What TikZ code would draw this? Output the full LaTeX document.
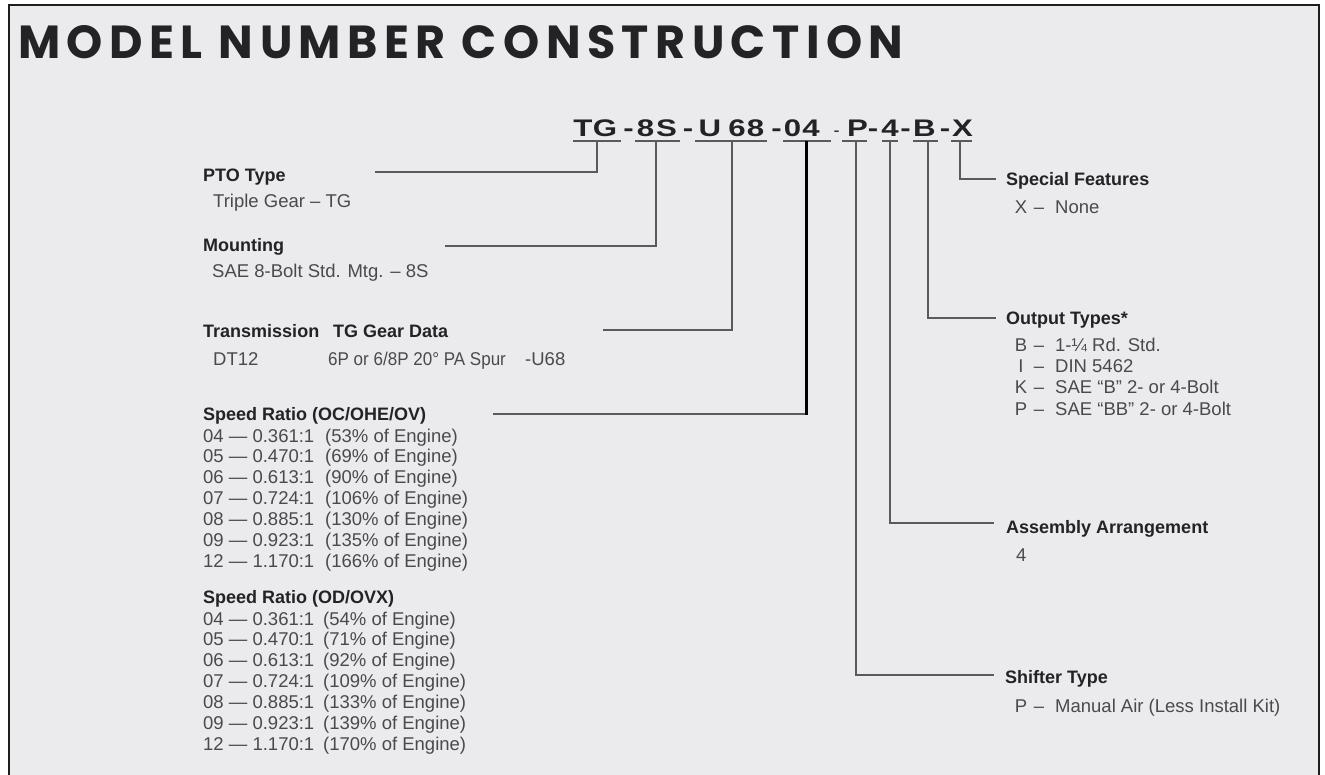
\documentclass[tikz,border=0pt]{standalone}
\usepackage{fontspec}
\usepackage{graphicx}
\setmainfont{Liberation Sans}
\newfontfamily\titlefont{Poppins}[LetterSpace=14]
\newfontfamily\mnfont{Liberation Sans}[FakeStretch=1.3]
\definecolor{bg}{HTML}{EBEBEE}
\definecolor{frame}{HTML}{1E1E1E}
\definecolor{body}{HTML}{4A4A4C}
\definecolor{head}{HTML}{232325}
\definecolor{conn}{HTML}{5A5A5C}
\tikzset{
  txt/.style={anchor=base west, inner sep=0pt, font=\fontsize{18.5}{20}\selectfont, text=body},
  txtc/.style={txt, anchor=base},
  hd/.style={txt, font=\fontsize{18}{20}\selectfont\bfseries, text=head},
  mn/.style={anchor=base, inner sep=0pt, font=\mnfont\fontsize{24}{26}\selectfont\bfseries, text=head},
  ul/.style={draw=conn, line width=1.6pt},
  conline/.style={draw=conn, line width=1.4pt},
  thick04/.style={draw=black, line width=3pt}
}
\begin{document}
\begin{tikzpicture}[x=1pt,y=-1pt]
\useasboundingbox (0,0) rectangle (1325,775);
\fill[white] (0,0) rectangle (1325,775);
\fill[bg] (9,5) rectangle (1319,775);
\draw[frame, line width=2pt] (9,775) -- (9,5) -- (1319,5) -- (1319,775);

% title
\node[anchor=north west, inner sep=0pt, text=head] (title) at (18,25)
  {\resizebox{885pt}{33pt}{\titlefont\bfseries MODEL NUMBER CONSTRUCTION}};

% model number characters
\foreach \ch/\x [count=\i] in {T/583, G/605, -/628.5, 8/645.5, S/666.5, -/688,
    U/710, 6/737, 8/755.5, -/776.5, 0/792.5, 4/811, P/857.5, -/873, 4/890,
    -/905.5, B/924.5, -/945, X/962.5}
  \node[mn] (mc\i) at (\x,137) {\ch};
\node[anchor=base, inner sep=0pt, font=\fontsize{18}{20}\selectfont, text=head] (mcdash) at (836.5,137) {-};

% underlines
\draw[ul] (573,141) -- (621,141);
\draw[ul] (635,141) -- (680,141);
\draw[ul] (695,141) -- (767,141);
\draw[ul] (783,141) -- (831,141);
\draw[ul] (842,141) -- (867,141);
\draw[ul] (882,141) -- (898,141);
\draw[ul] (913,141) -- (938,141);
\draw[ul] (951,141) -- (972,141);

% connector anchors at the code segments
\coordinate (sTG) at (597,141);
\coordinate (s8S) at (656,141);
\coordinate (sU68) at (732,141);
\coordinate (s04) at (806,141);
\coordinate (sP) at (856,141);
\coordinate (s4) at (890,141);
\coordinate (sB) at (928,141);
\coordinate (sX) at (960,141);

% connector free ends
\coordinate (ePTO) at (375,172);
\coordinate (eMNT) at (445,246);
\coordinate (eTRN) at (603,330);
\coordinate (eSPD) at (493,414);
\coordinate (c04) at (806,414);
\coordinate (eSF) at (996,179);
\coordinate (eOT) at (996,318);
\coordinate (eAA) at (994,523);
\coordinate (eST) at (994,675);

\draw[conline] (sTG) |- (ePTO);
\draw[conline] (s8S) |- (eMNT);
\draw[conline] (sU68) |- (eTRN);
\draw[conline] (c04) -- (eSPD);
\draw[thick04] (s04) -- ([yshift=-0.7pt]c04);
\draw[conline] (sX) |- (eSF);
\draw[conline] (sB) |- (eOT);
\draw[conline] (s4) |- (eAA);
\draw[conline] (sP) |- (eST);

% left column
\node[hd] (pto) at (203,182) {PTO Type};
\node[txt] (ptov) at (213,208) {Triple Gear – TG};
\node[hd] (mnt) at (203,252) {Mounting};
\node[txt] (mntv) at (212,278) {SAE 8-Bolt Std. Mtg. – 8S};
\node[hd] (trn) at (203,338) {Transmission};
\node[hd] (tgd) at (333,338) {TG Gear Data};
\node[txt] (trnv) at (213,366) {DT12};
\node[txt] (tgdv) at (328,366) {\scalebox{0.92}[1]{6P or 6/8P 20° PA Spur}};
\node[txt] (tgdc) at (525,366) {-U68};

\node[hd] (spd1) at (203,420) {Speed Ratio (OC/OHE/OV)};
\foreach \a/\b/\p [count=\i] in {04/0.361/53, 05/0.470/69, 06/0.613/90, 07/0.724/106,
    08/0.885/130, 09/0.923/135, 12/1.170/166} {
  \node[txt] (ra\i) at (203,{442+(\i-1)*20.9}) {\a\ — \b:1};
  \node[txt] (pa\i) at (325,{442+(\i-1)*20.9}) {(\p\% of Engine)};
}
\node[hd] (spd2) at (203,603) {Speed Ratio (OD/OVX)};
\foreach \a/\b/\p [count=\i] in {04/0.361/54, 05/0.470/71, 06/0.613/92, 07/0.724/109,
    08/0.885/133, 09/0.923/139, 12/1.170/170} {
  \node[txt] (rb\i) at (203,{625+(\i-1)*20.9}) {\a\ — \b:1};
  \node[txt] (pb\i) at (323,{625+(\i-1)*20.9}) {(\p\% of Engine)};
}

% right column
\node[hd] (sf) at (1006,186) {Special Features};
\node[txtc] (sfk) at (1021,214) {X};
\node[txtc] (sfd) at (1039,214) {–};
\node[txt] (sfv) at (1055,214) {None};

\node[hd] (ot) at (1006,325) {Output Types*};
\foreach \k/\v [count=\i] in {B/1-¼ Rd. Std., I/DIN 5462, K/SAE “B” 2- or 4-Bolt, P/SAE “BB” 2- or 4-Bolt} {
  \node[txtc] (otk\i) at (1021,{352+(\i-1)*21}) {\k};
  \node[txtc] (otd\i) at (1039,{352+(\i-1)*21}) {–};
  \node[txt] (otv\i) at (1055,{352+(\i-1)*21}) {\v};
}

\node[hd] (aa) at (1006,533) {Assembly Arrangement};
\node[txt] (aav) at (1016,561) {4};

\node[hd] (st) at (1005,683) {Shifter Type};
\node[txtc] (stk) at (1021,712) {P};
\node[txtc] (std) at (1039,712) {–};
\node[txt] (stv) at (1055,712) {Manual Air (Less Install Kit)};
\end{tikzpicture}
\end{document}
